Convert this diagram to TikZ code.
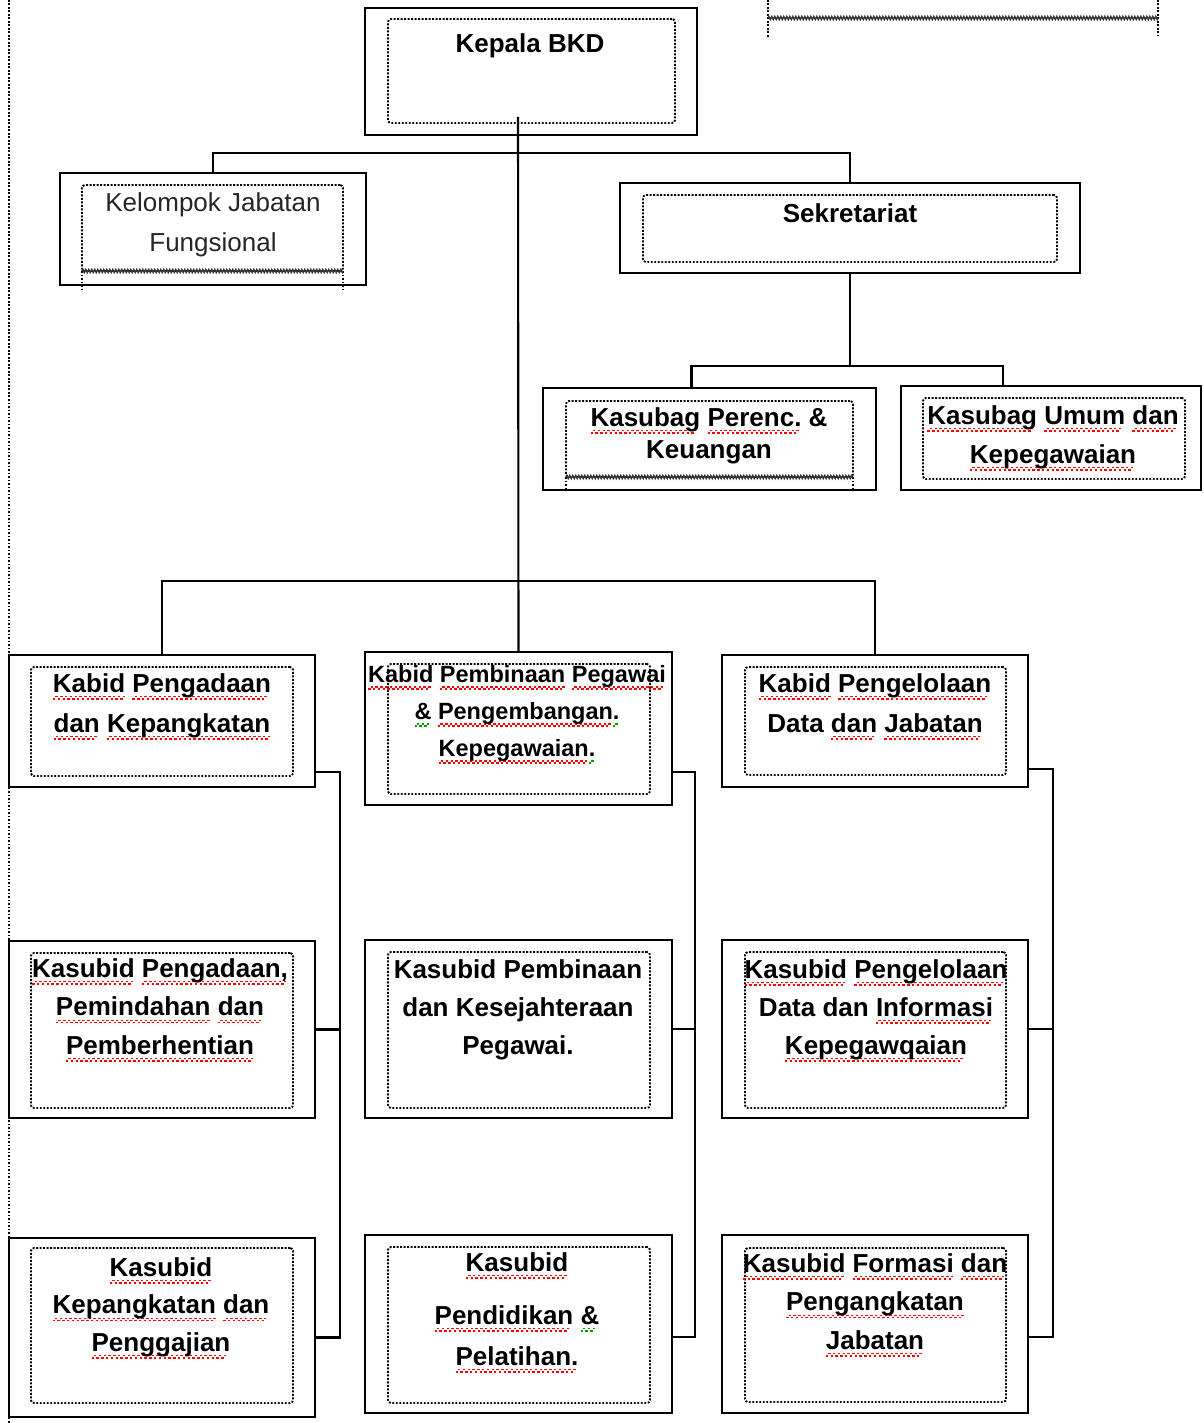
\documentclass[tikz,border=0pt]{standalone}
\usepackage{fontspec}
\setmainfont{Liberation Sans}
\usetikzlibrary{decorations.pathmorphing}
\newsavebox\redwave
\newsavebox\greenwave
\newsavebox\wordbox
\sbox\redwave{\color{red}\rule[-7.6pt]{2.4pt}{1.4pt}\rule[-5.4pt]{2.4pt}{1.4pt}}
\sbox\greenwave{\color{green!60!black}\rule[-7.6pt]{2.4pt}{1.4pt}\rule[-5.4pt]{2.4pt}{1.4pt}}
\newcommand\rw[1]{\sbox\wordbox{#1}\rlap{\hbox to \wd\wordbox{\leaders\copy\redwave\hfill}}\usebox\wordbox}
\newcommand\gw[1]{\sbox\wordbox{#1}\rlap{\hbox to \wd\wordbox{\leaders\copy\greenwave\hfill}}\usebox\wordbox}
\newcommand\mkbox[9]{%
  \node[outerbox, minimum width={#4-#2}, minimum height={#5-#3}] (#1) at ({(#2+#4)/2},{(#3+#5)/2}) {};
  \node[innerbox, minimum width={#8-#6}, minimum height={#9-#7}] (#1-in) at ({(#6+#8)/2},{(#7+#9)/2}) {};
}
\tikzset{
  outerbox/.style={draw, line width=2.3pt, inner sep=0pt, outer sep=0pt, rectangle, fill=white},
  innerbox/.style={draw, line width=1.9pt, dash pattern=on 1.9pt off 1.6pt, rounded corners=3pt, inner sep=0pt, outer sep=0pt},
  conn/.style={line width=2.1pt, black},
  lbl/.style={anchor=north, align=center, inner sep=0pt, text=black, font=\bfseries\fontsize{26}{40}\selectfont, execute at begin node=\rule{0pt}{20pt}},
  dotline/.style={line width=1.9pt, dash pattern=on 1.9pt off 1.6pt},
  wavy/.style={decorate, decoration={zigzag, amplitude=1.6pt, segment length=3pt}, line width=1.4pt, black!80},
}
\begin{document}
\begin{tikzpicture}[x=1pt,y=-1pt]
\useasboundingbox (0,0) rectangle (1203,1423);
% page border and cut-off box at top right
\draw[dotline] (9,0) -- (9,1423);
\draw[dotline] (768,0) -- (768,38);
\draw[dotline] (1158,0) -- (1158,36);
\draw[wavy] (768,18) -- (1158,18);

% boxes
\mkbox{kepala}{365}{8}{697}{135}{388}{19}{675}{123}
\mkbox{kel}{60}{173}{366}{285}{82}{185}{343}{271}
\mkbox{sek}{620}{183}{1080}{273}{643}{195}{1057}{262}
\mkbox{kbp}{543}{388}{876}{490}{566}{401}{853}{477}
\mkbox{kbu}{901}{386}{1201}{490}{923}{398}{1185}{479}
\mkbox{kab1}{9}{655}{315}{787}{31}{667}{293}{776}
\mkbox{kab2}{365}{652}{672}{805}{388}{664}{650}{794}
\mkbox{kab3}{722}{655}{1028}{787}{745}{667}{1006}{775}
\mkbox{ks21}{9}{941}{315}{1118}{31}{953}{293}{1108}
\mkbox{ks22}{365}{940}{672}{1118}{388}{952}{650}{1108}
\mkbox{ks23}{722}{940}{1028}{1118}{745}{952}{1006}{1108}
\mkbox{ks31}{9}{1238}{315}{1417}{31}{1248}{293}{1403}
\mkbox{ks32}{365}{1235}{672}{1413}{388}{1247}{650}{1403}
\mkbox{ks33}{722}{1235}{1028}{1413}{745}{1248}{1006}{1402}

% cut text-box bottoms
\draw[dotline] (kel-in.south west) -- ++(0,21);
\draw[dotline] (kel-in.south east) -- ++(0,21);
\draw[wavy] (kel-in.south west) -- (kel-in.south east);
\draw[dotline] (kbp-in.south west) -- ++(0,14);
\draw[dotline] (kbp-in.south east) -- ++(0,14);
\draw[wavy] (kbp-in.south west) -- (kbp-in.south east);

% texts
\node[lbl] (kepala-t) at (530,32) {Kepala BKD};
\node[lbl, font=\fontsize{26}{40}\selectfont, text=black!85] (kel-t) at (213,192) {Kelompok Jabatan\\Fungsional};
\node[lbl] (sek-t) at (850,202) {Sekretariat};
\node[lbl, font=\bfseries\fontsize{26}{32}\selectfont] (kbp-t) at (709,407) {\rw{Kasubag} \rw{Perenc.} \&\\Keuangan};
\node[lbl, font=\bfseries\fontsize{26}{39}\selectfont] (kbu-t) at (1053,405) {\rw{Kasubag} \rw{Umum} \rw{dan}\\\rw{Kepegawaian}};
\node[lbl] (kab1-t) at (162,673) {\rw{Kabid} \rw{Pengadaan}\\\rw{dan} \rw{Kepangkatan}};
\node[lbl, font=\bfseries\fontsize{23.5}{37}\selectfont] (kab2-t) at (517,665) {\rw{Kabid} \rw{Pembinaan} \rw{Pegawai}\\\gw{\&} \rw{Pengembangan}\gw{.}\\\rw{Kepegawaian}\gw{.}};
\node[lbl] (kab3-t) at (875,673) {\rw{Kabid} \rw{Pengelolaan}\\Data \rw{dan} \rw{Jabatan}};
\node[lbl, font=\bfseries\fontsize{26}{38.5}\selectfont] (ks21-t) at (160,958) {\rw{Kasubid} \rw{Pengadaan,}\\\rw{Pemindahan} \rw{dan}\\\rw{Pemberhentian}};
\node[lbl, font=\bfseries\fontsize{26}{38}\selectfont] (ks22-t) at (518,959) {Kasubid Pembinaan\\dan Kesejahteraan\\Pegawai.};
\node[lbl, font=\bfseries\fontsize{26}{38}\selectfont] (ks23-t) at (876,959) {\rw{Kasubid} \rw{Pengelolaan}\\Data dan \rw{Informasi}\\\rw{Kepegawqaian}};
\node[lbl, font=\bfseries\fontsize{26}{37.5}\selectfont] (ks31-t) at (161,1257) {\rw{Kasubid}\\\rw{Kepangkatan} \rw{dan}\\\rw{Penggajian}};
\node[lbl, font=\bfseries\fontsize{26}{41}\selectfont] (ks32-t) at (517,1252) {\rw{Kasubid}\\[12pt]\rw{Pendidikan} \gw{\&}\\\rw{Pelatihan.}};
\node[lbl, font=\bfseries\fontsize{26}{38.5}\selectfont] (ks33-t) at (875,1253) {\rw{Kasubid} \rw{Formasi} \rw{dan}\\\rw{Pengangkatan}\\\rw{Jabatan}};

% connectors
\coordinate (trunktop) at (518,117);
\coordinate (sj) at (850,366);
\coordinate (mj) at (518,581);
\draw[conn] (trunktop) -- (kab2.north);
\draw[conn] (kel.north) -- ++(0,-20) -| (sek.north);
\draw[conn] (sek.south) -- (sj);
\draw[conn] ([xshift=-18pt]kbp.north) |- (sj) -| ([xshift=-48pt]kbu.north);
\draw[conn] (kab1.north) |- (mj) -| (kab3.north);
% left column
\draw[conn] ([yshift=15pt]kab1.south east) -| ([xshift=25pt,yshift=-10pt]ks31.east) -- ([yshift=-10pt]ks31.east);
\draw[conn] (ks21.east) -- ++(25,0);
% middle column
\draw[conn] ([yshift=33pt]kab2.south east) -| ([xshift=23pt,yshift=-13pt]ks32.east) -- ([yshift=-13pt]ks32.east);
\draw[conn] (ks22.east) -- ++(23,0);
% right column
\draw[conn] ([yshift=18pt]kab3.south east) -| ([xshift=25pt,yshift=-13pt]ks33.east) -- ([yshift=-13pt]ks33.east);
\draw[conn] (ks23.east) -- ++(25,0);
\end{tikzpicture}
\end{document}
